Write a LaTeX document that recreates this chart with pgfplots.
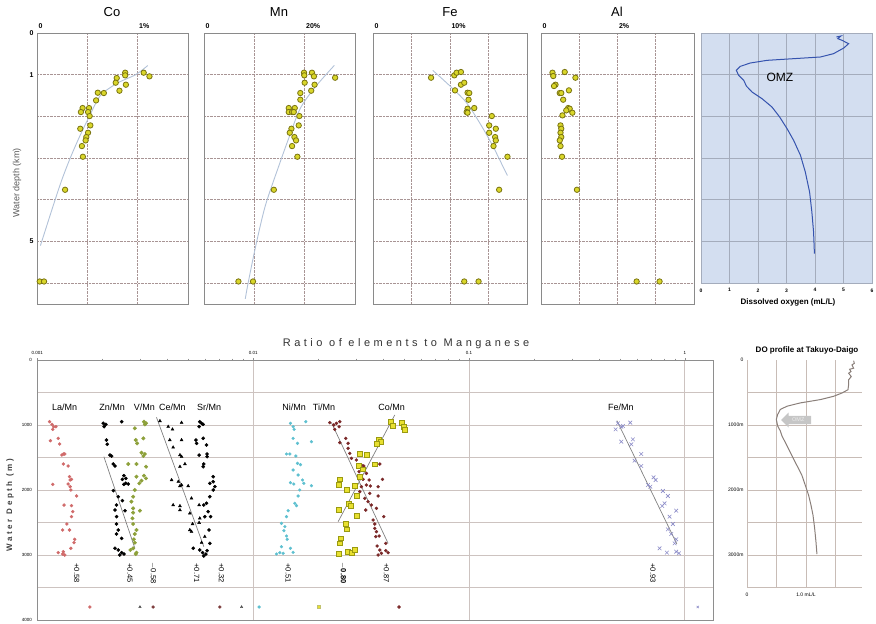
\documentclass[border=0pt]{standalone}
\usepackage{fontspec}
\setmainfont{Liberation Sans}
\newfontfamily\spacedfont[LetterSpace=32]{Liberation Sans}
\usepackage{pgfplots}
\pgfplotsset{compat=1.18}
\usetikzlibrary{shapes.arrows}
\definecolor{ptfill}{HTML}{D9D62A}
\definecolor{ptedge}{HTML}{7A7410}
\definecolor{trendblue}{HTML}{B2C2D8}
\definecolor{topgrid}{HTML}{A89494}
\definecolor{topframe}{HTML}{8A8A8A}
\definecolor{dofill}{HTML}{D3DEF0}
\definecolor{doline}{HTML}{3553AE}
\definecolor{dogrid}{HTML}{A4ACBC}
\definecolor{bgrid}{HTML}{CDC3C0}
\definecolor{bframe}{HTML}{8E8E8E}
\definecolor{lacol}{HTML}{D06A6A}
\definecolor{vcol}{HTML}{8DA03A}
\definecolor{nicol}{HTML}{5EC0D0}
\definecolor{ticol}{HTML}{7A2828}
\definecolor{cofill}{HTML}{E8E030}
\definecolor{coedge}{HTML}{9A9A10}
\definecolor{fecol}{HTML}{8C8CC8}
\definecolor{do2line}{HTML}{8A7F7A}
\definecolor{do2grid}{HTML}{C8BCB6}
\begin{document}
\begin{tikzpicture}
\useasboundingbox (0pt,0pt) rectangle (876pt,-624pt);
\pgfplotsset{
  toppanel/.style={
    scale only axis, anchor=north west, height=271pt,
    ymin=0, ymax=6.5, y dir=reverse,
    xticklabel pos=upper,
    major tick length=0pt, minor tick length=0pt,
    xmajorgrids, ymajorgrids,
    grid style={densely dotted, color=topgrid, line width=0.7pt},
    axis line style={color=topframe, line width=0.7pt},
    ytick={1,2,3,4,5,6}, yticklabels={},
    xticklabel style={font=\bfseries\fontsize{7}{8}\selectfont, anchor=south west, xshift=-2pt, yshift=1pt},
    yticklabel style={font=\bfseries\fontsize{7}{8}\selectfont},
  },
  topmark/.style={only marks, mark=*, mark size=2.7pt, mark options={fill=ptfill, draw=ptedge, line width=0.8pt}},
  trend/.style={no marks, smooth, color=trendblue, line width=0.9pt},
}
% ---------------- Co ----------------
\begin{axis}[toppanel, at={(37pt,-33pt)}, width=151pt, xmin=0, xmax=1.5,
  xtick={0,0.5,1}, xticklabels={0,,1\%},
  ytick={0,1,2,3,4,5,6}, yticklabels={0,1,,,,5,}]
\addplot[trend] coordinates {(1.10,0.78)(0.98,1.0)(0.80,1.2)(0.63,1.5)(0.52,2.0)(0.42,2.5)(0.33,3.0)(0.25,3.5)(0.18,4.0)(0.10,4.6)(0.034,5.1)};
\addplot[topmark] coordinates {(0.876,0.952)(0.876,1.016)(1.060,0.952)(1.117,1.040)(0.792,1.080)(0.782,1.192)(0.883,1.240)(0.819,1.384)(0.604,1.432)(0.664,1.440)(0.587,1.616)(0.453,1.800)(0.517,1.800)(0.436,1.896)(0.507,1.896)(0.523,1.992)(0.530,2.216)(0.430,2.296)(0.507,2.392)(0.490,2.496)(0.483,2.576)(0.446,2.712)(0.456,2.968)(0.279,3.760)(0.027,5.960)(0.070,5.960)};
\end{axis}
% ---------------- Mn ----------------
\begin{axis}[toppanel, at={(204pt,-33pt)}, width=151pt, xmin=0, xmax=30,
  xtick={0,10,20}, xticklabels={0,,20\%}]
\addplot[trend] coordinates {(25.9,0.776)(22.1,1.296)(19.1,1.816)(16.8,2.536)(14.9,3.176)(12.2,4.136)(10.3,5.096)(8.8,5.976)(8.2,6.376)};
\addplot[topmark] coordinates {(19.87,0.952)(19.93,1.016)(21.45,0.952)(21.84,1.040)(26.05,1.072)(20.00,1.192)(21.97,1.240)(21.30,1.384)(19.14,1.440)(19.14,1.600)(16.84,1.800)(18.03,1.800)(16.84,1.896)(17.50,1.896)(17.83,1.896)(18.95,1.992)(18.82,2.216)(17.37,2.296)(17.04,2.392)(17.96,2.496)(18.29,2.576)(17.50,2.712)(18.55,2.968)(13.88,3.760)(6.84,5.960)(9.74,5.960)};
\end{axis}
% ---------------- Fe ----------------
\begin{axis}[toppanel, at={(373pt,-33pt)}, width=154pt, xmin=0, xmax=20,
  xtick={0,5,10,15}, xticklabels={0,,10\%,}]
\addplot[trend] coordinates {(7.76,0.896)(9.91,1.256)(12.07,1.656)(13.79,2.136)(15.52,2.696)(16.81,3.176)(17.46,3.416)};
\addplot[topmark] coordinates {(7.54,1.072)(10.56,1.016)(10.86,0.952)(11.42,0.936)(11.42,1.240)(11.85,1.192)(10.65,1.376)(12.28,1.432)(12.50,1.440)(12.41,1.600)(12.28,1.816)(13.15,1.800)(12.16,1.896)(12.28,1.912)(15.43,1.992)(15.09,2.216)(15.95,2.296)(15.09,2.392)(15.86,2.496)(15.95,2.576)(15.65,2.712)(17.46,2.968)(16.38,3.760)(11.85,5.960)(13.71,5.960)};
\end{axis}
% ---------------- Al ----------------
\begin{axis}[toppanel, at={(541pt,-33pt)}, width=153pt, xmin=0, xmax=4,
  xtick={0,1,2,3}, xticklabels={0,,2\%,}]
\addplot[topmark] coordinates {(0.30,0.952)(0.32,1.032)(0.62,0.936)(0.90,1.072)(0.38,1.240)(0.34,1.272)(0.73,1.376)(0.49,1.440)(0.53,1.440)(0.58,1.600)(0.71,1.800)(0.75,1.816)(0.66,1.856)(0.82,1.912)(0.56,1.976)(0.51,2.216)(0.53,2.296)(0.51,2.392)(0.53,2.496)(0.49,2.576)(0.51,2.712)(0.55,2.968)(0.94,3.760)(2.50,5.960)(3.10,5.960)};
\end{axis}
% ---------------- DO top ----------------
\begin{axis}[scale only axis, anchor=north west, at={(701pt,-33pt)}, width=171pt, height=250pt,
  xmin=0, xmax=6, ymin=0, ymax=6, y dir=reverse,
  axis background/.style={fill=dofill},
  xtick={0,1,2,3,4,5,6}, xticklabels={0,1,2,3,4,5,6},
  ytick={1,2,3,4,5}, yticklabels={},
  major tick length=0pt,
  grid=major, grid style={color=dogrid, line width=0.6pt},
  axis line style={color=dogrid, line width=0.6pt},
  xticklabel style={font=\bfseries\fontsize{5}{6}\selectfont, yshift=-2pt}]
\addplot[no marks, color=doline, line width=1pt] coordinates {(4.75,0.096)(4.91,0.072)(4.80,0.136)(4.95,0.176)(5.18,0.256)(5.01,0.36)(4.65,0.496)(4.19,0.576)(3.25,0.616)(2.32,0.656)(1.73,0.72)(1.38,0.80)(1.24,0.896)(1.32,1.016)(1.50,1.136)(1.59,1.272)(1.79,1.416)(2.14,1.576)(2.49,1.776)(2.76,2.016)(3.02,2.296)(3.25,2.576)(3.49,2.936)(3.66,3.336)(3.81,3.816)(3.89,4.296)(3.95,4.776)(3.98,5.296)};
\node[font=\fontsize{12}{14}\selectfont] at (axis cs:2.77,1.06) {OMZ};
\end{axis}
% top titles
\node[font=\fontsize{13}{15}\selectfont] at (112pt,-12pt) {Co};
\node[font=\fontsize{13}{15}\selectfont] at (279pt,-12pt) {Mn};
\node[font=\fontsize{13}{15}\selectfont] at (450pt,-12pt) {Fe};
\node[font=\fontsize{13}{15}\selectfont] at (617pt,-12pt) {Al};
\node[rotate=90, text=gray!70!black, font=\fontsize{9}{10}\selectfont] at (17pt,-183pt) {Water depth (km)};
\node[font=\bfseries\fontsize{8}{9}\selectfont] at (788pt,-302pt) {Dissolved oxygen (mL/L)};
% ---------------- bottom main ----------------
\begin{axis}[scale only axis, anchor=north west, at={(37.3pt,-360pt)}, width=675.7pt, height=260pt,
  xmode=log, xmin=0.001, xmax=1.35, ymin=0, ymax=4000, y dir=reverse,
  xtick={0.001,0.01,0.1,1}, xticklabels={0.001,0.01,0.1,1},
  minor xtick={0.002,0.003,0.004,0.005,0.006,0.007,0.008,0.009,0.02,0.03,0.04,0.05,0.06,0.07,0.08,0.09,0.2,0.3,0.4,0.5,0.6,0.7,0.8,0.9},
  xticklabel pos=upper, xtick pos=upper, tick align=outside,
  major tick length=2pt, minor tick length=1.5pt,
  xtick style={color=bframe, line width=0.5pt},
  ytick={0,500,1000,1500,2000,2500,3000,3500,4000},
  yticklabels={0,,1000,,2000,,3000,,4000},
  ytick style={draw=none},
  xmajorgrids, ymajorgrids,
  grid style={color=bgrid, line width=0.9pt},
  axis line style={color=bframe, line width=0.7pt},
  tick label style={font=\fontsize{4.5}{5}\selectfont},
  clip=false]
% trend lines
\addplot[no marks, color=gray, line width=0.7pt] coordinates {(0.002035,1487)(0.002833,2897)};
\addplot[no marks, color=gray, line width=0.7pt] coordinates {(0.003567,882)(0.00591,2872)};
\addplot[no marks, color=gray, line width=0.7pt] coordinates {(0.02306,964)(0.04219,2821)};
\addplot[no marks, color=gray, line width=0.7pt] coordinates {(0.04529,846)(0.02476,2487)};
\addplot[no marks, color=gray, line width=0.7pt] coordinates {(0.4845,933)(0.9183,2831)};
% La/Mn
\addplot[only marks, mark=*, mark size=1.5pt, color=lacol] coordinates {(0.00114,949)(0.00117,990)(0.00119,1026)(0.00122,1026)(0.00118,1067)(0.00115,1241)(0.00125,1205)(0.00127,1292)(0.00132,1446)(0.00134,1446)(0.00130,1462)(0.00132,1600)(0.00139,1631)(0.00141,1795)(0.00144,1836)(0.00142,1846)(0.00118,1913)(0.00139,1908)(0.00142,1949)(0.00143,2000)(0.00152,2092)(0.00133,2231)(0.00144,2241)(0.00146,2333)(0.00144,2410)(0.00137,2523)(0.00131,2615)(0.00141,2615)(0.00149,2759)(0.00148,2810)(0.00143,2897)(0.00125,2964)(0.00132,2949)(0.00131,2985)(0.00134,3000)(0.001754,3800)};
% Zn/Mn
\addplot[only marks, mark=*, mark size=1.6pt, color=black] coordinates {(0.00202,974)(0.00204,1026)(0.00208,990)(0.00246,949)(0.00209,1231)(0.00211,1297)(0.00217,1462)(0.00221,1477)(0.00225,1600)(0.00229,1631)(0.00252,1779)(0.00248,1836)(0.00257,1821)(0.00257,1897)(0.00252,1913)(0.00264,1908)(0.00225,2010)(0.00237,2103)(0.00248,2164)(0.00233,2231)(0.00229,2308)(0.00255,2318)(0.00233,2410)(0.00233,2523)(0.00237,2615)(0.00233,2677)(0.00246,2744)(0.00229,2897)(0.00237,2923)(0.00246,2964)(0.00241,3000)(0.00252,2985)};
% V/Mn
\addplot[only marks, mark=*, mark size=1.8pt, color=vcol] coordinates {(0.00312,949)(0.00319,974)(0.00315,990)(0.00283,1051)(0.00286,1231)(0.00310,1205)(0.00290,1282)(0.00304,1426)(0.00315,1446)(0.00310,1477)(0.00264,1600)(0.00288,1600)(0.00319,1641)(0.00288,1795)(0.00312,1779)(0.00319,1821)(0.00304,1856)(0.00297,1897)(0.00283,2000)(0.00278,2103)(0.00273,2179)(0.00278,2282)(0.00299,2318)(0.00278,2349)(0.00276,2436)(0.00278,2523)(0.00288,2615)(0.00283,2677)(0.00280,2759)(0.00283,2810)(0.00278,2897)(0.00270,2923)(0.00288,2964)(0.00286,2985)};
% Ce/Mn
\addplot[only marks, mark=triangle*, mark size=1.7pt, color=black] coordinates {(0.00370,938)(0.00404,1026)(0.00423,1067)(0.00466,964)(0.00411,1231)(0.00466,1231)(0.00426,1344)(0.00458,1462)(0.00466,1487)(0.00483,1600)(0.00458,1641)(0.00419,1846)(0.00450,1872)(0.00466,1923)(0.00458,1938)(0.00500,1938)(0.00426,2231)(0.00458,2246)(0.00458,2308)(0.00518,2128)(0.00562,2231)(0.00509,2359)(0.00566,2436)(0.00562,2503)(0.00524,2523)(0.00509,2615)(0.00518,2641)(0.00597,2718)(0.00577,2810)};
% Sr/Mn
\addplot[only marks, mark=*, mark size=1.6pt, color=black] coordinates {(0.00566,949)(0.00577,974)(0.00562,1026)(0.00587,990)(0.00587,1205)(0.00543,1231)(0.00547,1282)(0.00608,1308)(0.00562,1462)(0.00612,1446)(0.00612,1487)(0.00587,1641)(0.00591,1600)(0.00653,1795)(0.00630,1897)(0.00653,1872)(0.00665,1949)(0.00653,2000)(0.00630,2103)(0.00591,2231)(0.00608,2205)(0.00635,2410)(0.00597,2410)(0.00619,2333)(0.00625,2615)(0.00630,2821)(0.00528,2897)(0.00566,2923)(0.00583,2964)(0.00604,2985)(0.00612,2933)(0.00591,3015)};
% Ni/Mn
\addplot[only marks, mark=*, mark size=1.4pt, color=nicol] coordinates {(0.01489,974)(0.01532,1026)(0.01549,1067)(0.01754,949)(0.01532,1205)(0.01605,1282)(0.01863,1256)(0.01427,1446)(0.01479,1446)(0.01577,1477)(0.01605,1590)(0.01657,1610)(0.01532,1692)(0.01616,1769)(0.01693,1846)(0.01489,1887)(0.01543,1908)(0.01717,1897)(0.01863,1933)(0.01645,2000)(0.01616,2092)(0.01560,2205)(0.01588,2241)(0.01453,2318)(0.01427,2410)(0.01353,2513)(0.01403,2564)(0.01388,2626)(0.01427,2708)(0.01438,2759)(0.01353,2872)(0.01489,2897)(0.01532,2959)(0.01377,2974)(0.01283,2985)(0.01329,2964)(0.01066,3800)};
% Ti/Mn
\addplot[only marks, mark=*, mark size=1.5pt, color=ticol] coordinates {(0.02265,964)(0.02363,1000)(0.02432,974)(0.02520,949)(0.02388,1067)(0.02502,1026)(0.02686,1205)(0.02754,1282)(0.02754,1359)(0.02520,1272)(0.02803,1436)(0.02853,1513)(0.03009,1538)(0.03174,1615)(0.03254,1631)(0.03096,1718)(0.03347,1744)(0.03231,1836)(0.03444,1846)(0.03972,1836)(0.03861,1600)(0.03174,1949)(0.03347,1923)(0.03494,1938)(0.03793,1949)(0.03119,2026)(0.03469,2051)(0.03793,2092)(0.03288,2128)(0.03407,2179)(0.03532,2231)(0.03324,2308)(0.03726,2282)(0.04029,2410)(0.03595,2462)(0.03660,2523)(0.03660,2590)(0.03726,2641)(0.03834,2708)(0.03698,2718)(0.03752,2862)(0.04115,2821)(0.03861,2923)(0.03929,2974)(0.04115,2933)(0.04219,2964)(0.03793,3000)(0.0474,3800)};
% Co/Mn
\addplot[only marks, mark=square*, mark size=2.4pt, mark options={fill=cofill, draw=coedge, line width=0.6pt}] coordinates {(0.04325,949)(0.04418,1015)(0.04863,964)(0.04986,1026)(0.05039,1077)(0.03819,1221)(0.03888,1256)(0.03752,1292)(0.03119,1446)(0.03372,1462)(0.03096,1631)(0.03660,1605)(0.03231,1682)(0.03119,1795)(0.02520,1836)(0.02493,1923)(0.02956,1938)(0.02724,2000)(0.03009,2092)(0.02783,2215)(0.02823,2246)(0.02502,2308)(0.03009,2400)(0.02686,2523)(0.02724,2605)(0.02547,2744)(0.02520,2821)(0.02493,2985)(0.02754,2954)(0.02853,2964)(0.02956,2923)};
\addplot[only marks, mark=square*, mark size=1.6pt, mark options={fill=cofill, draw=coedge!60, line width=0.4pt}] coordinates {(0.0202,3800)};
% Fe/Mn
\addplot[only marks, mark=x, mark size=2.6pt, color=fecol, line width=0.6pt] coordinates {(0.4898,974)(0.4778,1067)(0.5075,1026)(0.5585,964)(0.5166,1015)(0.5075,1256)(0.5747,1221)(0.5646,1297)(0.6281,1446)(0.5849,1549)(0.6281,1631)(0.7161,1805)(0.7318,1846)(0.6745,1923)(0.6915,1949)(0.7913,2015)(0.8344,2092)(0.8054,2205)(0.7857,2246)(0.9120,2318)(0.8495,2410)(0.8804,2523)(0.8344,2605)(0.8648,2677)(0.9120,2759)(0.8962,2821)(0.7636,2897)(0.8256,2964)(0.9120,2949)(0.9384,2974)};
\addplot[only marks, mark=x, mark size=1.6pt, color=fecol, line width=0.5pt] coordinates {(1.148,3800)};
% deep dark samples
\addplot[only marks, mark=triangle*, mark size=1.4pt, color=gray!60!black] coordinates {(0.00299,3800)(0.00884,3800)};
\addplot[only marks, mark=*, mark size=1.4pt, color=ticol!80!gray] coordinates {(0.00344,3800)(0.00701,3800)};
% labels
\begin{scope}[font=\fontsize{9}{10}\selectfont]
\node at (axis cs:0.00134,723) {La/Mn};
\node at (axis cs:0.00222,723) {Zn/Mn};
\node at (axis cs:0.00313,723) {V/Mn};
\node at (axis cs:0.00422,723) {Ce/Mn};
\node at (axis cs:0.00625,723) {Sr/Mn};
\node at (axis cs:0.0155,723) {Ni/Mn};
\node at (axis cs:0.0213,723) {Ti/Mn};
\node at (axis cs:0.0438,723) {Co/Mn};
\node at (axis cs:0.505,723) {Fe/Mn};
\end{scope}
\begin{scope}[font=\fontsize{7.5}{8}\selectfont]
\node[rotate=-90] at (axis cs:0.001522,3277) {+0.58};
\node[rotate=-90] at (axis cs:0.002686,3277) {+0.45};
\node[rotate=-90] at (axis cs:0.00344,3277) {$-$0.58};
\node[rotate=-90] at (axis cs:0.00547,3277) {+0.71};
\node[rotate=-90] at (axis cs:0.00714,3277) {+0.32};
\node[rotate=-90] at (axis cs:0.01452,3277) {+0.51};
\node[rotate=-90, font=\bfseries\fontsize{7.5}{8}\selectfont] at (axis cs:0.0261,3277) {$-$0.80};
\node[rotate=-90] at (axis cs:0.04146,3277) {+0.87};
\node[rotate=-90] at (axis cs:0.711,3277) {+0.93};
\end{scope}
\end{axis}
\node[font=\spacedfont\fontsize{11}{12}\selectfont, text=black!80] at (406pt,-344pt) {Ratio of elements to Manganese};
\node[rotate=90, font=\spacedfont\bfseries\fontsize{8}{9}\selectfont, text=black!75] at (10pt,-505pt) {Water Depth (m)};
% ---------------- bottom DO ----------------
\begin{axis}[scale only axis, anchor=north west, at={(747pt,-360pt)}, width=115pt, height=227.5pt,
  xmin=0, xmax=1.95, ymin=0, ymax=3500, y dir=reverse,
  xtick={0,0.5,1,1.5}, xticklabels={0,,1.0 mL/L,},
  ytick={500,1000,1500,2000,2500,3000,3500}, yticklabels={,1000m,,2000m,,3000m,},
  extra y ticks={0}, extra y tick labels={0}, extra y tick style={grid=none},
  major tick length=0pt,
  grid=major, grid style={color=do2grid, line width=0.8pt},
  axis line style={draw=none},
  tick label style={font=\fontsize{5}{6}\selectfont},
  xticklabel style={yshift=-2pt}]
\addplot[no marks, color=do2line, line width=1pt] coordinates {(1.808,10)(1.819,51)(1.780,76)(1.808,127)(1.740,142)(1.763,178)(1.723,203)(1.768,254)(1.723,305)(1.723,381)(1.712,457)(1.610,508)(1.469,558)(1.243,609)(0.904,660)(0.678,711)(0.565,761)(0.520,838)(0.497,914)(0.520,1015)(0.565,1091)(0.593,1168)(0.650,1269)(0.706,1371)(0.763,1472)(0.819,1574)(0.876,1675)(0.932,1777)(0.989,1929)(1.045,2081)(1.085,2234)(1.119,2386)(1.147,2589)(1.169,2792)(1.186,2985)};
\node[single arrow, shape border rotate=180, fill=gray!45, draw=none, minimum height=30pt, minimum width=15pt, single arrow head extend=2.5pt, inner sep=1pt, text=white!85!gray, font=\fontsize{5.5}{6}\selectfont] at (axis cs:0.87,923) {OMZ};
\end{axis}
\node[font=\bfseries\fontsize{8}{9}\selectfont] at (807pt,-350pt) {DO profile at Takuyo-Daigo};
\end{tikzpicture}
\end{document}
